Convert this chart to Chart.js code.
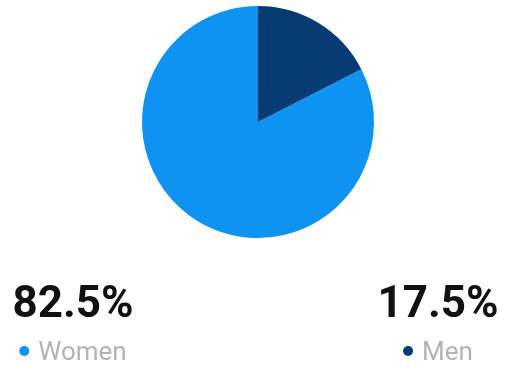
<!DOCTYPE html>
<html>
<head>
<meta charset="utf-8">
<script src="https://cdn.jsdelivr.net/npm/chart.js@4"></script>
<style>
  html, body { margin: 0; padding: 0; background: #fff; }
  #wrap { width: 510px; height: 367px; position: relative; }
</style>
</head>
<body>
<div id="wrap"><canvas id="genderChart" width="510" height="367"></canvas></div>
<script>
var labels = ['Women', 'Men'];
var shares = [82.5, 17.5];
var colors = ['#0f93f3', '#063b73'];

// where each value + legend block sits under the pie (block centre x)
var blockCenters = [73, 438];

var summaryPlugin = {
  id: 'summary',
  afterDraw: function (chart) {
    var ctx = chart.ctx;
    var ds = chart.data.datasets[0];
    ctx.save();
    chart.data.labels.forEach(function (label, i) {
      var cx = blockCenters[i];
      // big percentage
      ctx.font = 'bold 44px Roboto';
      ctx.fillStyle = '#111';
      ctx.textAlign = 'center';
      ctx.textBaseline = 'alphabetic';
      ctx.fillText(ds.data[i].toFixed(1) + '%', cx, 317);

      // dot + label
      ctx.font = '26px Roboto';
      var tw = ctx.measureText(label).width;
      var dotR = 5;
      var gap = 9;
      var total = dotR * 2 + gap + tw;
      var x0 = cx - total / 2;
      ctx.beginPath();
      ctx.arc(x0 + dotR, 351, dotR, 0, Math.PI * 2);
      ctx.fillStyle = ds.backgroundColor[i];
      ctx.fill();
      ctx.fillStyle = '#b3b3b3';
      ctx.textAlign = 'left';
      ctx.fillText(label, x0 + dotR * 2 + gap, 360);
    });
    ctx.restore();
  }
};

new Chart('genderChart', {
  type: 'pie',
  data: {
    labels: labels,
    datasets: [{
      data: shares,
      backgroundColor: colors,
      borderWidth: 0
    }]
  },
  options: {
    responsive: false,
    animation: false,
    // start Women right after the Men wedge so Men sits at 12 o'clock
    rotation: shares[1] / 100 * 360,
    layout: { padding: { top: 6, bottom: 129, left: 6, right: 0 } },
    plugins: {
      legend: { display: false },
      tooltip: { enabled: false }
    }
  },
  plugins: [summaryPlugin]
});
</script>
</body>
</html>
